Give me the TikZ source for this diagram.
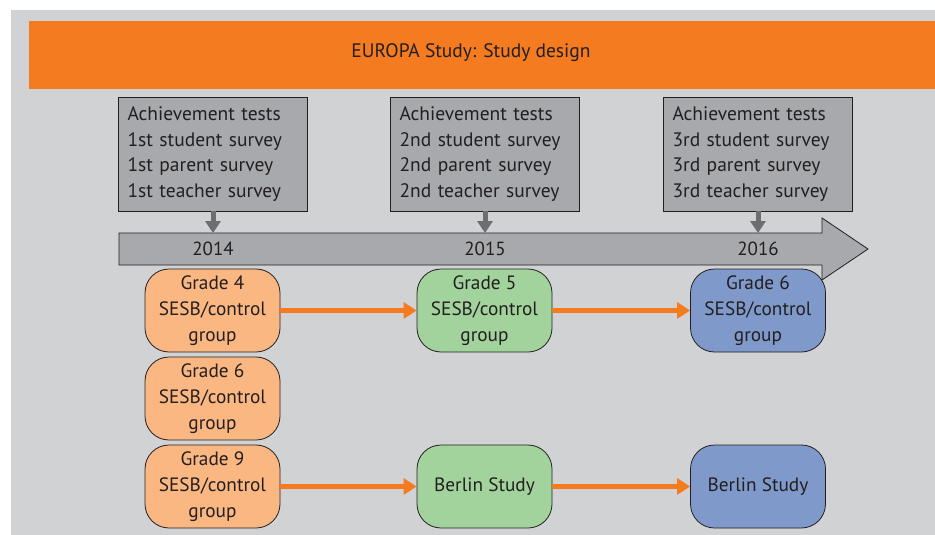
\documentclass[tikz,border=0pt]{standalone}
\usepackage{fontspec}
\setmainfont{PT Sans}
\usetikzlibrary{positioning,arrows.meta}
\definecolor{eubg}{RGB}{209,210,212}
\definecolor{euorange}{RGB}{244,123,32}
\definecolor{eugray}{RGB}{167,169,172}
\definecolor{eudark}{RGB}{35,31,32}
\definecolor{eupeach}{RGB}{250,183,130}
\definecolor{eugreen}{RGB}{163,211,156}
\definecolor{eublue}{RGB}{127,154,202}
\definecolor{euarrow}{RGB}{109,110,113}
\begin{document}
\begin{tikzpicture}[x=1pt,y=-1pt,
  survey/.style={draw=eudark,line width=0.8pt,fill=eugray,text width=171pt,
    minimum height=114pt,inner xsep=9pt,align=left,text=eudark,
    font=\fontsize{19.5}{25.5}\selectfont},
  group/.style={draw=eudark,line width=0.8pt,rounded corners=24pt,
    minimum width=135pt,minimum height=83pt,align=center,text=eudark,
    font=\fontsize{19.3}{26}\selectfont},
  year/.style={text=eudark,font=\fontsize{19}{22}\selectfont},
  probe/.style={draw=euarrow,line width=5pt,-{Triangle[length=12pt,width=15pt]}},
  follow/.style={draw=euorange,line width=5pt,-{Triangle[length=13pt,width=16pt]}}]
  \useasboundingbox (0,0) rectangle (935,535);
  % --- background and title banner ---
  \fill[eubg] (11,10) rectangle (935,535);
  \fill[euorange] (29,21) rectangle (935,89);
  \node[text=eudark,font=\fontsize{19.5}{22}\selectfont] (title) at (471,53) {EUROPA Study: Study design};
  % --- survey waves ---
  \node[survey] (s1) at (213,154) {Achievement tests\\1st student survey\\1st parent survey\\1st teacher survey};
  \node[survey] (s2) at (485,154) {Achievement tests\\2nd student survey\\2nd parent survey\\2nd teacher survey};
  \node[survey] (s3) at (758,154) {Achievement tests\\3rd student survey\\3rd parent survey\\3rd teacher survey};
  % --- time line ---
  \filldraw[fill=eugray,draw=eudark,line width=0.8pt]
    (119,233) -- (822,233) -- (822,218) -- (868,249) -- (822,280) -- (822,265) -- (119,265) -- cycle;
  \foreach \yr/\xx [count=\i] in {2014/213,2015/485,2016/758}{%
    \coordinate (t\i) at (\xx,233);
    \node[year] (y\i) at (\xx,249) {\yr};
    \draw[probe] (s\i.south) -- (t\i);}
  % --- cohorts ---
  \node[group,fill=eupeach] (g4) at (212.5,310.5) {Grade 4\\SESB/control\\group};
  \node[group,fill=eupeach] (g6a) at (212.5,398.5) {Grade 6\\SESB/control\\group};
  \node[group,fill=eupeach] (g9) at (212.5,486.5) {Grade 9\\SESB/control\\group};
  \node[group,fill=eugreen] (g5) at (484.5,310.5) {Grade 5\\SESB/control\\group};
  \node[group,fill=eugreen] (b1) at (484.5,486.5) {Berlin Study};
  \node[group,fill=eublue] (g6b) at (758,310.5) {Grade 6\\SESB/control\\group};
  \node[group,fill=eublue] (b2) at (758,486.5) {Berlin Study};
  % --- follow-ups ---
  \draw[follow] (g4) -- (g5);
  \draw[follow] (g5) -- (g6b);
  \draw[follow] (g9) -- (b1);
  \draw[follow] (b1) -- (b2);
\end{tikzpicture}
\end{document}
